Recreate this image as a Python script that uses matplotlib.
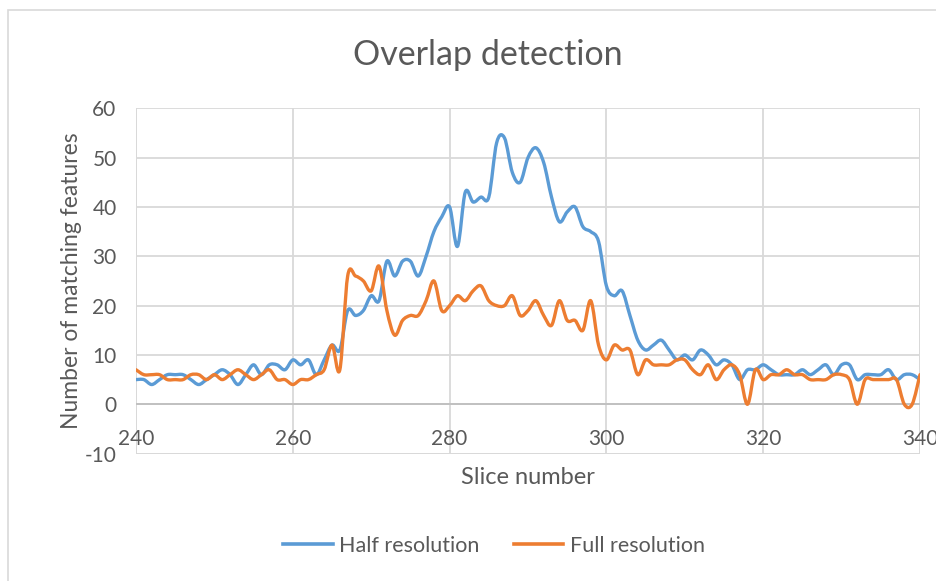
import numpy as np
import matplotlib
matplotlib.use("Agg")
import matplotlib.pyplot as plt
from matplotlib.path import Path
from matplotlib.patches import PathPatch, Rectangle
from matplotlib.lines import Line2D

plt.rcParams["axes.unicode_minus"] = False

# Slice numbers and matching-feature counts
slices = list(range(240, 341))

half_resolution = [
    5, 5, 4, 5, 6, 6, 6, 5, 4, 5,            # 240-249
    6, 7, 6, 4, 6, 8, 6, 8, 8, 7,            # 250-259
    9, 8, 9, 6, 9, 12, 11, 19, 18, 19,       # 260-269
    22, 21, 29, 26, 29, 29, 26, 30, 35, 38,  # 270-279
    40, 32, 43, 41, 42, 42, 53, 54, 47, 45,  # 280-289
    50, 52, 49, 42, 37, 39, 40, 36, 35, 33,  # 290-299
    24, 22, 23, 18, 13, 11, 12, 13, 11, 9,   # 300-309
    10, 9, 11, 10, 8, 9, 8, 5, 7, 7,         # 310-319
    8, 7, 6, 6, 6, 7, 6, 7, 8, 6,            # 320-329
    8, 8, 5, 6, 6, 6, 7, 5, 6, 6,            # 330-339
    5,                                       # 340
]

full_resolution = [
    7, 6, 6, 6, 5, 5, 5, 6, 6, 5,            # 240-249
    6, 5, 6, 7, 6, 5, 6, 7, 5, 5,            # 250-259
    4, 5, 5, 6, 7, 12, 7, 26, 26, 25,        # 260-269
    23, 28, 19, 14, 17, 18, 18, 21, 25, 19,  # 270-279
    20, 22, 21, 23, 24, 21, 20, 20, 22, 18,  # 280-289
    19, 21, 18, 16, 21, 17, 17, 15, 21, 12,  # 290-299
    9, 12, 11, 11, 6, 9, 8, 8, 8, 9,         # 300-309
    9, 7, 6, 8, 5, 7, 8, 6, 0, 7,            # 310-319
    5, 6, 6, 7, 6, 6, 5, 5, 5, 6,            # 320-329
    6, 5, 0, 5, 5, 5, 5, 5, 0, 0,            # 330-339
    6,                                       # 340
]

series_names = ["Half resolution", "Full resolution"]
series_colors = ["#5B9BD5", "#ED7D31"]
x_ticks = [240, 260, 280, 300, 320, 340]
y_ticks = [-10, 0, 10, 20, 30, 40, 50, 60]

TEXT = "#595959"
GRID = "#D9D9D9"
FONT = ["Lato", "DejaVu Sans"]


def smooth_path(x, y):
    """Bezier path through every point (Catmull-Rom style smoothing)."""
    x = np.asarray(x, float)
    y = np.asarray(y, float)
    px = np.concatenate([[x[0]], x, [x[-1]]])
    py = np.concatenate([[y[0]], y, [y[-1]]])
    verts = [(x[0], y[0])]
    codes = [Path.MOVETO]
    for i in range(1, len(px) - 2):
        c1 = (px[i] + (px[i + 1] - px[i - 1]) / 6, py[i] + (py[i + 1] - py[i - 1]) / 6)
        c2 = (px[i + 1] - (px[i + 2] - px[i]) / 6, py[i + 1] - (py[i + 2] - py[i]) / 6)
        verts += [c1, c2, (px[i + 1], py[i + 1])]
        codes += [Path.CURVE4] * 3
    return Path(verts, codes)


fig = plt.figure(figsize=(9.36, 5.81), dpi=100)
fig.patch.set_facecolor("white")

# chart frame (left and top edges visible)
fig.patches.append(Rectangle((8 / 936, -20 / 581), 940 / 936, (571 + 20) / 581,
                             transform=fig.transFigure, fill=False,
                             edgecolor="#D9D9D9", linewidth=1.2))

ax = fig.add_axes([136 / 936, 1 - 453.6 / 581, 784 / 936, (453.6 - 108.3) / 581])
ax.set_xlim(240, 340)
ax.set_ylim(-10, 60)

for s in ax.spines.values():
    s.set_visible(False)

ax.set_xticks(x_ticks)
ax.set_yticks(y_ticks)
ax.grid(True, color=GRID, linewidth=1.3)
ax.set_axisbelow(True)
ax.axhline(0, color="#BFBFBF", linewidth=1.3, zorder=1)
ax.axvline(240, color=GRID, linewidth=1.3, zorder=0)
ax.axvline(340, color=GRID, linewidth=1.3, zorder=0)
ax.axhline(-10, color=GRID, linewidth=1.3, zorder=0)

ax.tick_params(axis="both", length=0, labelsize=15, labelcolor=TEXT)
ax.tick_params(axis="y", pad=14)
for lab in ax.get_xticklabels() + ax.get_yticklabels():
    lab.set_family(FONT)

# x tick labels sit just below the zero line
ax.set_xticklabels([])
for t in x_ticks:
    ax.text(t, -7.0, str(t), ha="center", va="center", fontsize=15,
            color=TEXT, family=FONT, clip_on=False)

for vals, color in zip([half_resolution, full_resolution], series_colors):
    ax.add_patch(PathPatch(smooth_path(slices, vals), fill=False,
                           edgecolor=color, linewidth=2.4,
                           capstyle="round", joinstyle="round", zorder=3))

ax.set_xlabel("Slice number", fontsize=17, color=TEXT, family=FONT, labelpad=6)
ax.set_ylabel("Number of matching features", fontsize=16.5, color=TEXT,
              family=FONT, labelpad=2)

fig.text(488 / 936, 1 - 55 / 581, "Overlap detection", ha="center", va="center",
         fontsize=24.5, color=TEXT, family=FONT)

handles = [Line2D([], [], color=c, linewidth=2.6) for c in series_colors]
leg = fig.legend(handles, series_names, loc="center", ncol=2,
                 bbox_to_anchor=(494 / 936, 1 - 546 / 581), frameon=False,
                 prop={"family": FONT, "size": 15.5}, handlelength=2.3,
                 columnspacing=1.6, handletextpad=0.3)
for t in leg.get_texts():
    t.set_color(TEXT)

fig.savefig("out.png", dpi=100, facecolor="white")
